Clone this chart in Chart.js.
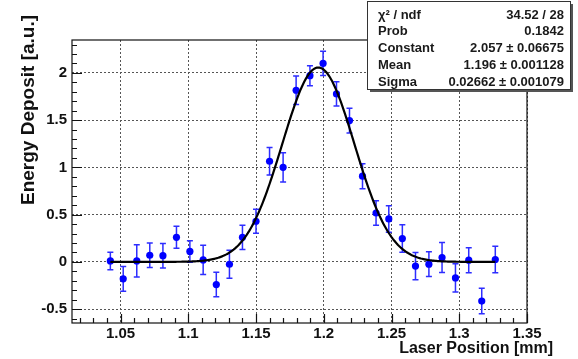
<!DOCTYPE html>
<html>
<head>
<meta charset="utf-8">
<script src="https://cdn.jsdelivr.net/npm/chart.js@4"></script>
<style>
  html, body { margin: 0; padding: 0; background: #fff; }
  #wrap { width: 578px; height: 359px; }
</style>
</head>
<body>
<div id="wrap"><canvas id="scan"></canvas></div>
<script>
// laser scan points
const laserPos = [1.0425, 1.052, 1.062, 1.0716, 1.0813, 1.0913, 1.1012, 1.111, 1.1207, 1.1304,
                  1.140, 1.150, 1.160, 1.170, 1.1796, 1.1898, 1.1995, 1.2094, 1.219, 1.2286,
                  1.2386, 1.248, 1.258, 1.2677, 1.2776, 1.2873, 1.2972, 1.307, 1.3166, 1.3266];
const energy = [0.01, -0.18, 0.01, 0.07, 0.065, 0.26, 0.11, 0.02, -0.24, -0.025,
                0.26, 0.43, 1.065, 1.0, 1.816, 1.97, 2.10, 1.777, 1.495, 0.907,
                0.517, 0.454, 0.247, -0.045, -0.024, 0.046, -0.17, 0.018, -0.415, 0.025];
const energyErr = [0.093, 0.13, 0.17, 0.13, 0.13, 0.116, 0.114, 0.155, 0.13, 0.148,
                   0.128, 0.127, 0.146, 0.155, 0.15, 0.105, 0.128, 0.128, 0.132, 0.132,
                   0.13, 0.14, 0.146, 0.144, 0.132, 0.158, 0.15, 0.132, 0.135, 0.139];

// gaussian fit result (from the stats box)
const fitConstant = 2.057;
const fitMean = 1.196;
const fitSigma = 0.02662;

const xTicks = [1.05, 1.1, 1.15, 1.2, 1.25, 1.3, 1.35];
const yTicks = [-0.5, 0, 0.5, 1, 1.5, 2];

const statLabels = ['\u03C7\u00B2 / ndf', 'Prob', 'Constant', 'Mean', 'Sigma'];
const statValues = ['34.52 / 28', '0.1842', '2.057 \u00B1 0.06675', '1.196 \u00B1 0.001128', '0.02662 \u00B1 0.001079'];

const FONT = "'Liberation Sans', Arial, sans-serif";

const points = laserPos.map((x, i) => ({ x: x, y: energy[i] }));

// fit curve drawn between first and last point
const fitCurve = [];
const x0 = laserPos[0], x1 = laserPos[laserPos.length - 1];
for (let i = 0; i <= 300; i++) {
    const x = x0 + (x1 - x0) * i / 300;
    const t = (x - fitMean) / fitSigma;
    fitCurve.push({ x: x, y: fitConstant * Math.exp(-0.5 * t * t) });
}

// error bars under the points
const errorBars = {
    id: 'errorBars',
    beforeDatasetDraw(chart, args) {
        if (args.index !== 1) return;
        const ctx = chart.ctx;
        const xs = chart.scales.x, ys = chart.scales.y;
        ctx.save();
        ctx.strokeStyle = 'rgb(45,45,255)';
        ctx.lineWidth = 1.5;
        laserPos.forEach((x, i) => {
            const px = xs.getPixelForValue(x);
            const top = ys.getPixelForValue(energy[i] + energyErr[i]);
            const bot = ys.getPixelForValue(energy[i] - energyErr[i]);
            ctx.beginPath();
            ctx.moveTo(px, top); ctx.lineTo(px, bot);
            ctx.moveTo(px - 3, top); ctx.lineTo(px + 3, top);
            ctx.moveTo(px - 3, bot); ctx.lineTo(px + 3, bot);
            ctx.stroke();
        });
        ctx.restore();
    }
};

// ROOT style frame, inward ticks, axis titles and stats box
const rootFrame = {
    id: 'rootFrame',
    afterDraw(chart) {
        const ctx = chart.ctx;
        const a = chart.chartArea;
        const xs = chart.scales.x, ys = chart.scales.y;
        ctx.save();
        ctx.strokeStyle = '#111';
        ctx.lineWidth = 1.2;
        ctx.strokeRect(a.left, a.top, a.right - a.left, a.bottom - a.top);

        ctx.beginPath();
        for (let k = 102; k <= 135; k++) {
            const v = k / 100;
            const px = Math.round(xs.getPixelForValue(v)) + 0.5;
            const major = k % 5 === 0;
            ctx.moveTo(px, a.bottom);
            ctx.lineTo(px, a.bottom - (major ? 9 : 5));
        }
        for (let k = -6; k <= 23; k++) {
            const v = k / 10;
            const py = Math.round(ys.getPixelForValue(v)) + 0.5;
            const major = k % 5 === 0;
            ctx.moveTo(a.left, py);
            ctx.lineTo(a.left + (major ? 10 : 5), py);
        }
        ctx.stroke();

        // axis titles
        ctx.fillStyle = '#111';
        ctx.font = 'bold 16px ' + FONT;
        ctx.textAlign = 'right';
        ctx.textBaseline = 'middle';
        ctx.fillText('Laser Position [mm]', 553, 349);
        ctx.save();
        ctx.translate(29, 205);
        ctx.rotate(-Math.PI / 2);
        ctx.font = 'bold 19px ' + FONT;
        ctx.textAlign = 'left';
        ctx.fillText('Energy Deposit [a.u.]', 0, 0);
        ctx.restore();

        // stats box
        const bx = 367, by = 1, bw = 203, bh = 88;
        ctx.fillStyle = '#555';
        ctx.fillRect(bx + 3, by + 3, bw, bh);
        ctx.fillStyle = '#fff';
        ctx.fillRect(bx, by, bw, bh);
        ctx.strokeStyle = '#333';
        ctx.lineWidth = 1;
        ctx.strokeRect(bx + 0.5, by + 0.5, bw, bh);
        ctx.font = 'bold 13px ' + FONT;
        ctx.fillStyle = '#1a1a1a';
        statLabels.forEach((s, i) => {
            const y = 15 + i * 16.8;
            ctx.textAlign = 'left';
            ctx.fillText(s, 378, y);
            ctx.textAlign = 'right';
            ctx.fillText(statValues[i], 564, y);
        });
        ctx.restore();
    }
};

const ctx = document.getElementById('scan').getContext('2d');
new Chart(ctx, {
    type: 'scatter',
    data: {
        datasets: [
            {
                label: 'fit',
                data: fitCurve,
                showLine: true,
                pointRadius: 0,
                borderColor: '#000',
                borderWidth: 2.2,
                tension: 0
            },
            {
                label: 'scan',
                data: points,
                pointRadius: 3.6,
                pointBackgroundColor: '#0000ff',
                pointBorderColor: '#0000ff',
                pointBorderWidth: 0
            }
        ]
    },
    options: {
        responsive: true,
        maintainAspectRatio: false,
        animation: false,
        events: [],
        layout: { padding: { left: 0, top: 40, right: 51, bottom: 0 } },
        plugins: { legend: { display: false }, tooltip: { enabled: false } },
        scales: {
            x: {
                type: 'linear',
                min: 1.0142,
                max: 1.35,
                afterBuildTicks: s => { s.ticks = xTicks.map(v => ({ value: v })); },
                afterFit: s => { s.height = 36; },
                grid: { drawTicks: false, color: '#555', lineWidth: 1 },
                border: { display: false, dash: [2, 2] },
                ticks: {
                    padding: 2,
                    color: '#111',
                    font: { family: FONT, size: 15, weight: 'bold' },
                    callback: v => String(v)
                }
            },
            y: {
                type: 'linear',
                min: -0.647,
                max: 2.348,
                afterBuildTicks: s => { s.ticks = yTicks.map(v => ({ value: v })); },
                afterFit: s => { s.width = 72; },
                grid: { drawTicks: false, color: '#555', lineWidth: 1 },
                border: { display: false, dash: [2, 2] },
                ticks: {
                    padding: 5,
                    color: '#111',
                    font: { family: FONT, size: 15, weight: 'bold' },
                    callback: v => String(v)
                }
            }
        }
    },
    plugins: [errorBars, rootFrame]
});
</script>
</body>
</html>
